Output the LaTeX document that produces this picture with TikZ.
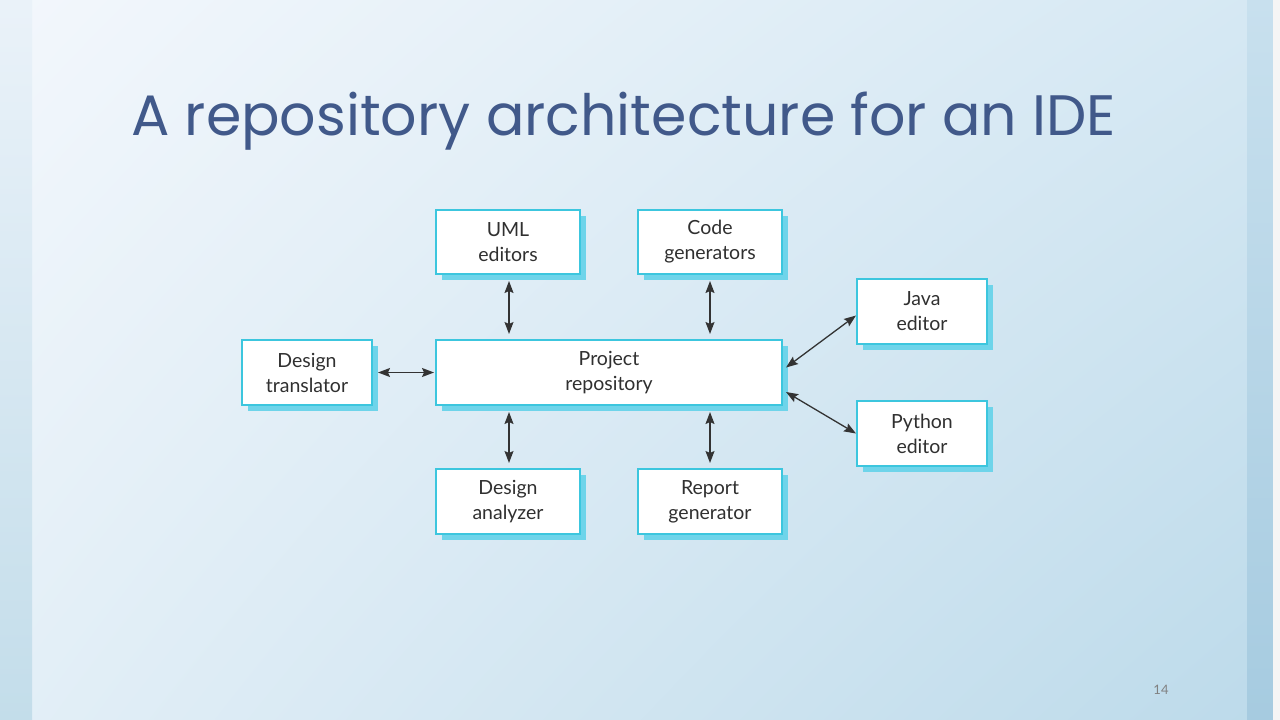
\documentclass[tikz,border=0pt]{standalone}
\usepackage{fontspec}
\setmainfont{Lato}
\newfontfamily\titlefont{Poppins}
\usetikzlibrary{arrows.meta,calc,shadings}
\definecolor{boxline}{HTML}{3CC6DE}
\definecolor{boxshadow}{HTML}{6ED4EA}
\definecolor{titleblue}{HTML}{41598A}
\definecolor{boxtext}{HTML}{303030}
\definecolor{bgul}{RGB}{243,247,252}
\definecolor{bgur}{RGB}{213,232,243}
\definecolor{bgll}{RGB}{227,239,247}
\definecolor{bglr}{RGB}{188,218,234}
\definecolor{lstript}{RGB}{234,242,249}
\definecolor{lstripb}{RGB}{195,221,234}
\definecolor{rstript}{RGB}{200,224,238}
\definecolor{rstripb}{RGB}{166,203,224}
\tikzset{
  box/.style={draw=boxline, line width=2pt, fill=white, minimum width=144pt, minimum height=64pt,
    align=center, text=boxtext, font=\fontsize{19.5}{25}\selectfont, inner sep=0pt},
  smallbox/.style={box, minimum width=130pt, minimum height=65pt},
  shadowbox/.style={fill=boxshadow},
  arr/.style={{Stealth[length=12pt,width=9pt,inset=2pt]}-{Stealth[length=12pt,width=9pt,inset=2pt]}, line width=1.3pt, draw=black!80}
}
\begin{document}
\begin{tikzpicture}[x=1pt,y=-1pt]
\useasboundingbox (0,0) rectangle (1280,720);
% background
\shade[upper left=bgul, upper right=bgur, lower left=bgll, lower right=bglr]
  (0,0) rectangle (1280,720);
\shade[top color=lstript, bottom color=lstripb] (0,0) rectangle (32,720);
\shade[top color=rstript, bottom color=rstripb] (1247,0) rectangle (1273,720);
\fill[white!92!gray] (1273,0) rectangle (1280,720);
% title
\node[anchor=base west, inner sep=0pt, text=titleblue, font=\titlefont\fontsize{57}{60}\selectfont] (title) at (131,135) {A repository architecture for an IDE};
% shadows
\foreach \x/\y/\w/\h in {436/210/144/64, 638/210/144/64, 857/279/130/65, 242/340/130/65, 436/340/346/65, 857/401/130/65, 436/469/144/65, 638/469/144/65}{
  \fill[shadowbox] (\x+6,\y+6) rectangle (\x+\w+6,\y+\h+6);
}
% boxes
\node[box] (uml) at (508,242) {UML\\editors};
\node[box] (code) at (710,242) {Code\\generators};
\node[smallbox] (java) at (922,311.5) {Java\\editor};
\node[smallbox] (trans) at (307,372.5) {Design\\translator};
\node[box, minimum width=346pt, minimum height=65pt] (repo) at (609,372.5) {Project\\repository};
\node[smallbox] (python) at (922,433.5) {Python\\editor};
\node[box, minimum height=65pt] (analyzer) at (508,501.5) {Design\\analyzer};
\node[box, minimum height=65pt] (report) at (710,501.5) {Report\\generator};
% connectors
\draw[arr, shorten <=6pt, shorten >=5pt] ($(uml.south)+(1,0)$) -- ($(uml.south |- repo.north)+(1,0)$);
\draw[arr, shorten <=6pt, shorten >=5pt] (code.south) -- (code.south |- repo.north);
\draw[arr, shorten <=6pt, shorten >=5pt] ($(repo.south -| analyzer.north)+(1,0)$) -- ($(analyzer.north)+(1,0)$);
\draw[arr, shorten <=6pt, shorten >=5pt] (repo.south -| report.north) -- (report.north);
\draw[arr, shorten <=5pt, shorten >=1pt] (trans.east) -- (repo.west);
\draw[arr] ($(repo.east)+(3,-5)$) -- ($(java.west)+(0,4)$);
\draw[arr] ($(repo.east)+(3,19.5)$) -- (python.west);
% page number
\node[anchor=center, text=gray, font=\fontsize{13}{14}\selectfont] (pnum) at (1161,690) {14};
\end{tikzpicture}
\end{document}
